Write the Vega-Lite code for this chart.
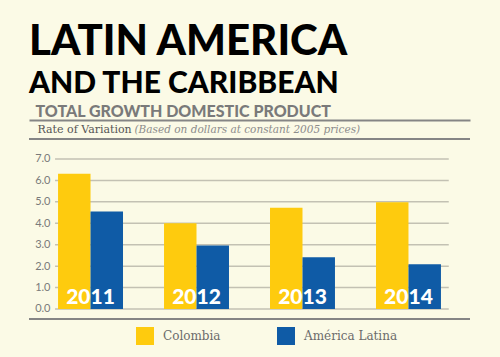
{
  "$schema": "https://vega.github.io/schema/vega-lite/v6.json",
  "width": 441,
  "height": 199,
  "autosize": {"type": "none"},
  "padding": {"left": 29, "top": 120, "right": 30, "bottom": 38},
  "background": "#FBFAE6",
  "title": {
    "text": "LATIN AMERICA",
    "subtitle": "AND THE CARIBBEAN",
    "anchor": "start",
    "frame": "group",
    "font": "Lato",
    "fontSize": 42,
    "fontWeight": 900,
    "color": "#000000",
    "subtitleFont": "Lato",
    "subtitleFontSize": 30,
    "subtitleFontWeight": 900,
    "subtitleColor": "#000000",
    "subtitlePadding": 5,
    "offset": 3
  },
  "config": {
    "view": {"stroke": null},
    "axisX": {
      "orient": "top", "domain": true, "domainColor": "#858585", "domainWidth": 2,
      "labels": false, "ticks": false, "grid": false,
      "titleFont": "Lato", "titleFontSize": 16, "titleFontWeight": 900, "titleColor": "#7A7A7A",
      "titleAlign": "left", "titleBaseline": "alphabetic", "titleAnchor": "start",
      "titleX": 6, "titleY": -4
    }
  },
  "resolve": {"axis": {"y": "independent"}},
  "layer": [
    {
      "data": {"values": [
        {"g": 0, "from": "2011", "to": "2014"},
        {"g": 1, "from": "2011", "to": "2014"},
        {"g": 2, "from": "2011", "to": "2014"},
        {"g": 3, "from": "2011", "to": "2014"},
        {"g": 4, "from": "2011", "to": "2014"},
        {"g": 5, "from": "2011", "to": "2014"},
        {"g": 6, "from": "2011", "to": "2014"},
        {"g": 7, "from": "2011", "to": "2014"}
      ]},
      "mark": {"type": "rule", "color": "#C3C1B3", "strokeWidth": 1.5},
      "encoding": {
        "y": {
          "field": "g", "type": "quantitative",
          "scale": {"domain": [-0.467, 8.82], "nice": false, "zero": false},
          "axis": {
            "orient": "right", "domain": false, "labels": false, "ticks": false, "grid": false,
            "title": "(Based on dollars at constant 2005 prices)",
            "titleFont": "DejaVu Serif", "titleFontStyle": "italic", "titleFontWeight": "normal",
            "titleFontSize": 10.5, "titleColor": "#8C8C8C", "titleAngle": 0,
            "titleAlign": "left", "titleBaseline": "alphabetic",
            "titleX": -336, "titleY": 12
          }
        },
        "x": {"field": "from", "type": "nominal", "bandPosition": -0.046, "axis": {"title": "TOTAL GROWTH DOMESTIC PRODUCT", "orient": "top"}},
        "x2": {"field": "to", "bandPosition": 1.12}
      }
    },
    {
      "data": {"values": [{"e": 7.93}, {"e": -0.467}]},
      "mark": {"type": "rule", "color": "#858585", "strokeWidth": 2},
      "encoding": {
        "y": {"field": "e", "type": "quantitative", "axis": null}
      }
    },
    {
      "data": {"values": [
        {"year": "2011", "series": "Colombia", "value": 6.31},
        {"year": "2011", "series": "América Latina", "value": 4.55},
        {"year": "2012", "series": "Colombia", "value": 4.0},
        {"year": "2012", "series": "América Latina", "value": 2.96},
        {"year": "2013", "series": "Colombia", "value": 4.73},
        {"year": "2013", "series": "América Latina", "value": 2.41},
        {"year": "2014", "series": "Colombia", "value": 4.98},
        {"year": "2014", "series": "América Latina", "value": 2.09}
      ]},
      "mark": {"type": "bar"},
      "encoding": {
        "x": {
          "field": "year", "type": "nominal",
          "scale": {"paddingInner": 0.387, "paddingOuter": 0.274},
          "axis": {"title": "TOTAL GROWTH DOMESTIC PRODUCT", "orient": "top"}
        },
        "xOffset": {"field": "series", "type": "nominal", "sort": ["Colombia", "América Latina"], "scale": {"paddingInner": 0, "paddingOuter": 0}},
        "y": {
          "field": "value", "type": "quantitative",
          "axis": {
            "values": [0, 1, 2, 3, 4, 5, 6, 7], "format": ".1f",
            "grid": false, "domain": false, "ticks": false,
            "offset": -24, "labelPadding": 3,
            "labelFont": "Lato", "labelFontSize": 11, "labelColor": "#7A7A7A",
            "title": "Rate of Variation",
            "titleFont": "DejaVu Serif", "titleFontWeight": "normal", "titleFontSize": 11,
            "titleColor": "#555555", "titleAngle": 0, "titleAlign": "left", "titleBaseline": "alphabetic",
            "titleX": -16, "titleY": 12
          }
        },
        "color": {
          "field": "series", "type": "nominal",
          "scale": {"domain": ["Colombia", "América Latina"], "range": ["#FECB0E", "#0F5BA6"]},
          "legend": {
            "orient": "none", "legendX": 107, "legendY": 207, "direction": "horizontal",
            "title": null, "symbolType": "square", "symbolSize": 324, "symbolStrokeWidth": 0,
            "labelFont": "DejaVu Serif", "labelFontSize": 12, "labelColor": "#6B6B6B",
            "labelOffset": 9, "columnPadding": 56
          }
        }
      }
    },
    {
      "data": {"values": [{"year": "2011"}, {"year": "2012"}, {"year": "2013"}, {"year": "2014"}]},
      "mark": {"type": "text", "font": "Lato", "fontSize": 21, "fontWeight": 900, "color": "#FFFFFF", "baseline": "alphabetic", "dy": -5},
      "encoding": {
        "x": {"field": "year", "type": "nominal", "axis": {"title": "TOTAL GROWTH DOMESTIC PRODUCT", "orient": "top"}},
        "y": {"datum": 0, "type": "quantitative", "axis": null},
        "text": {"field": "year"}
      }
    }
  ]
}
